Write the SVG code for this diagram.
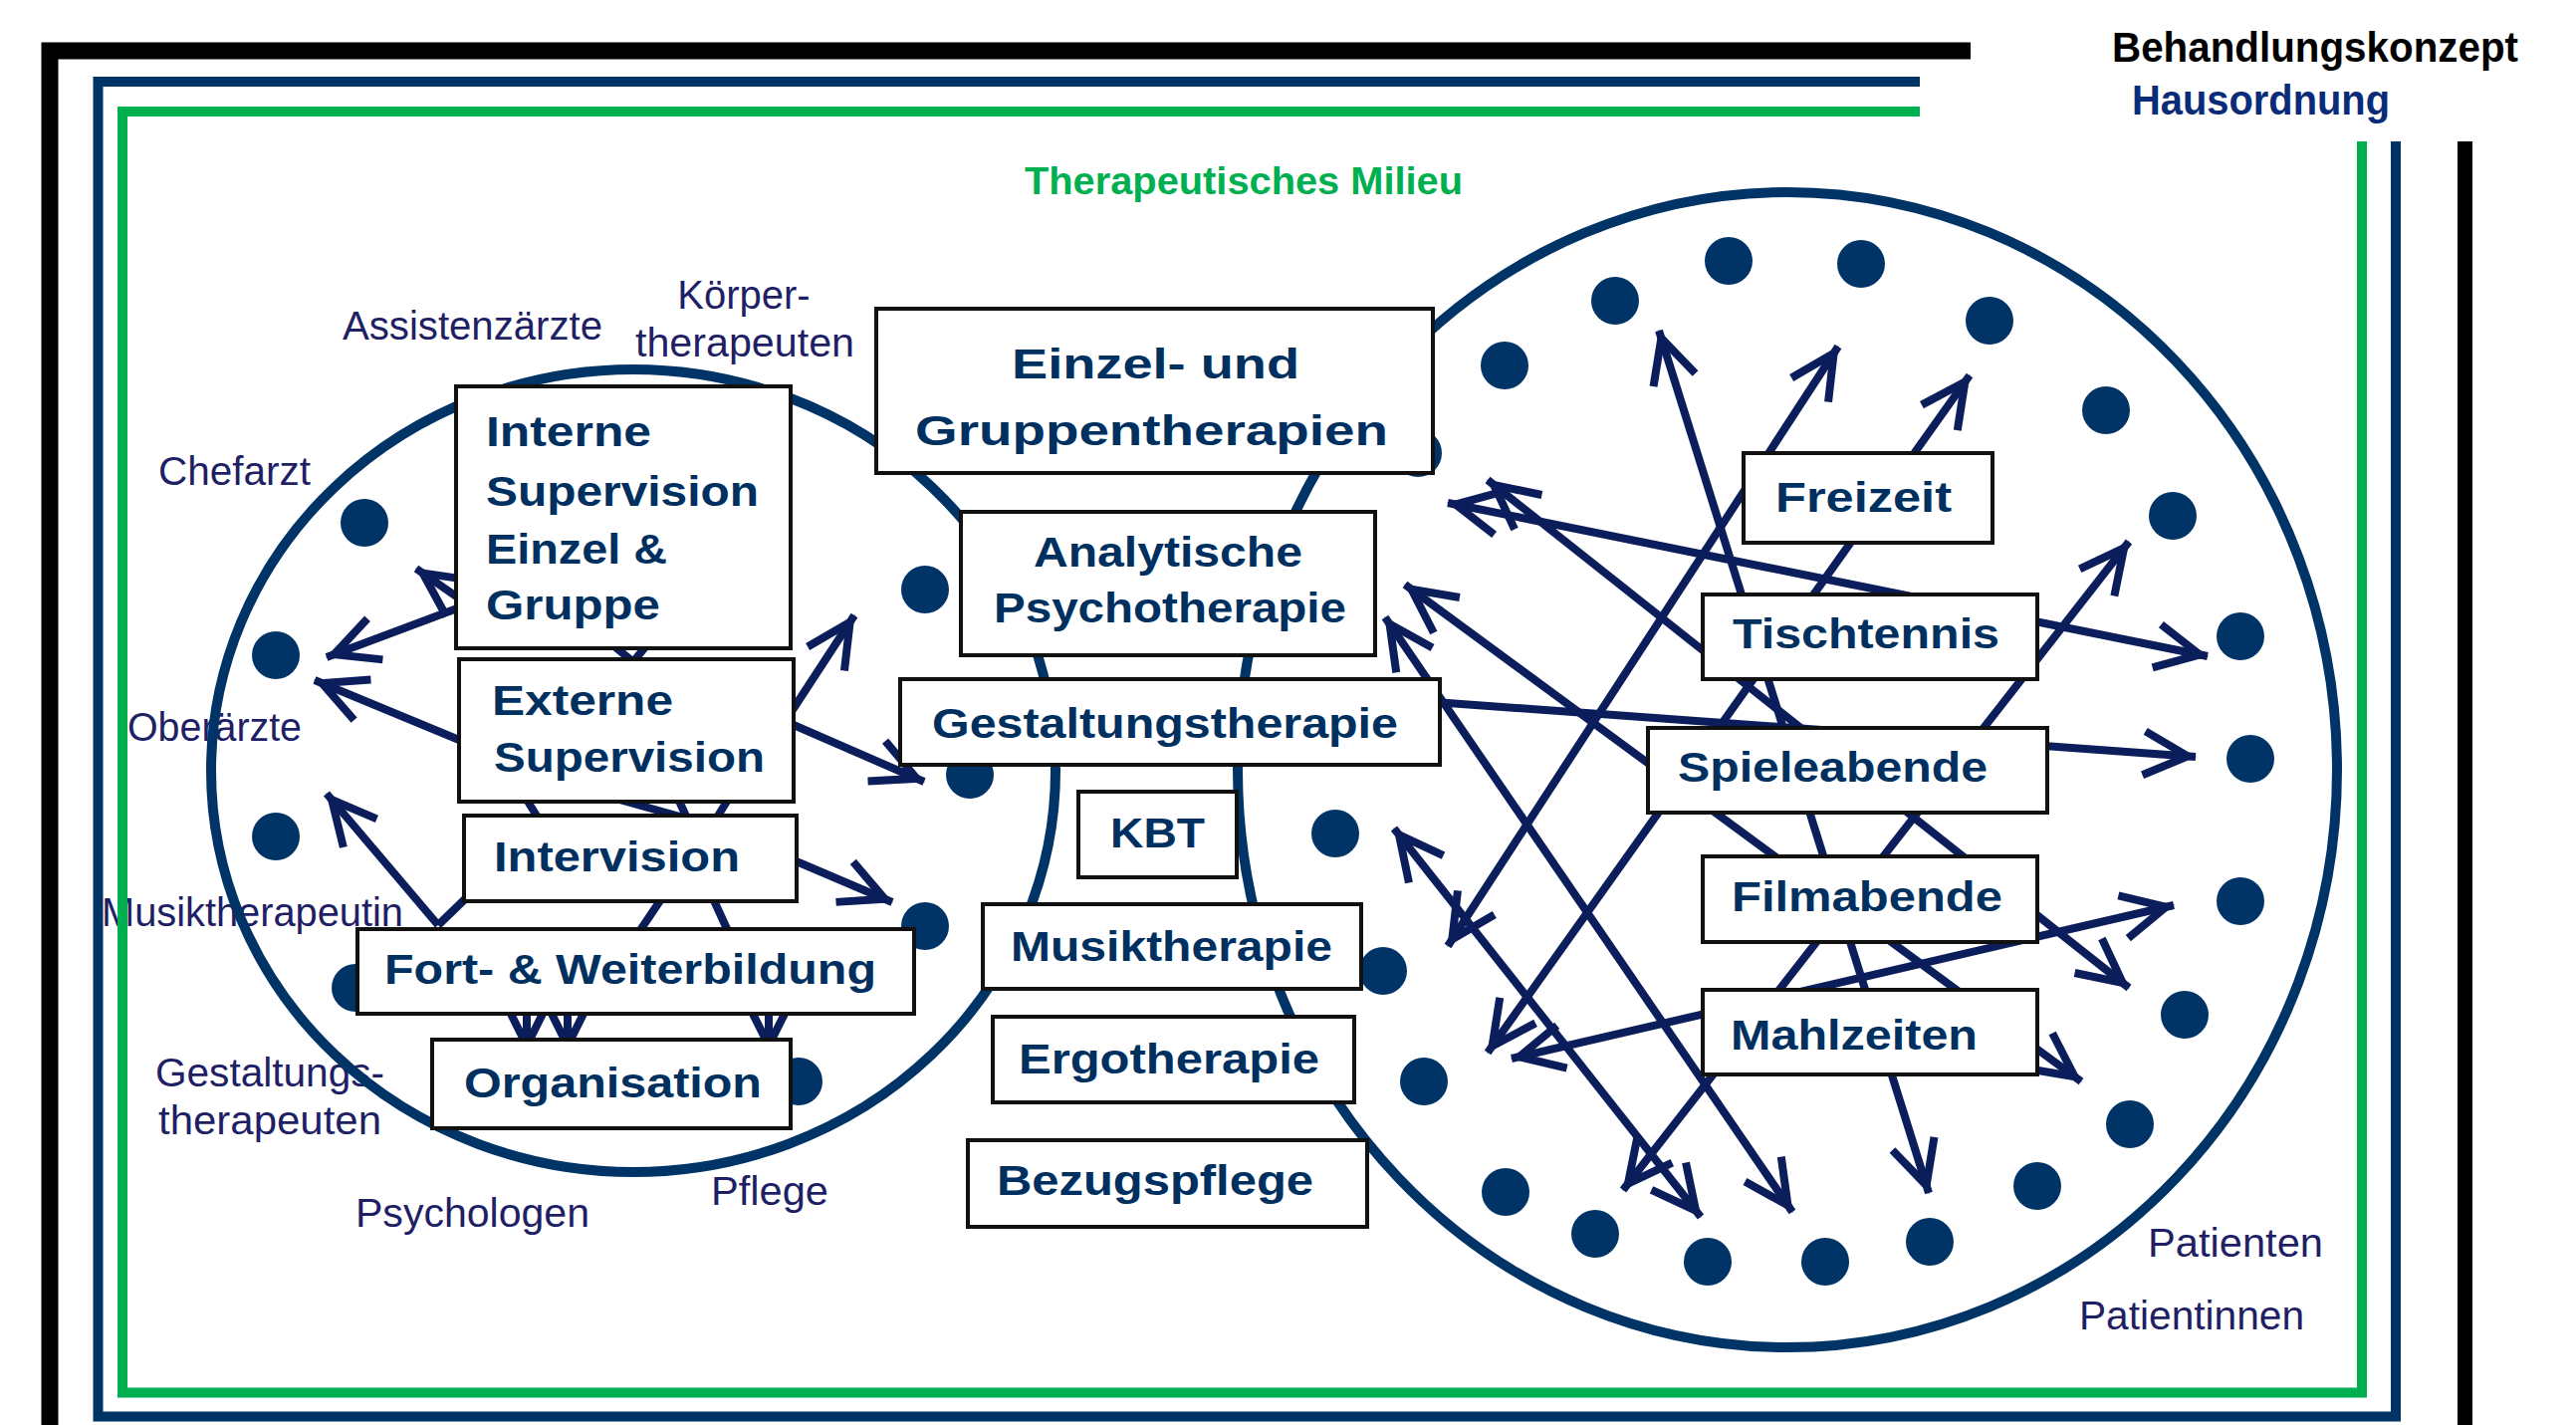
<svg xmlns="http://www.w3.org/2000/svg" width="2587" height="1431" viewBox="0 0 2587 1431">
<defs>
<style>
.bt{font-family:"Liberation Sans",Arial,sans-serif;font-weight:bold;font-size:42px;fill:#003060}
.lbl{font-family:"Liberation Sans",Arial,sans-serif;font-size:40px;fill:#1F1F66}
.box{fill:#fff;stroke:#111;stroke-width:4}
.ell{fill:none;stroke:#003366;stroke-width:10}
.dot{fill:#003366}
.conn line{stroke:#0B1E5B;stroke-width:8;fill:none}
.fr{fill:none;stroke-linejoin:miter;stroke-linecap:butt}
</style>
<marker id="ah" viewBox="-50 -30 70 60" refX="8" refY="0" markerWidth="70" markerHeight="60" markerUnits="userSpaceOnUse" orient="auto-start-reverse">
<path d="M-44,-22 L0,0 L-44,22" fill="none" stroke="#0B1E5B" stroke-width="8"/>
</marker>
</defs>
<rect width="2587" height="1431" fill="#fff"/>

<g id="labels">
<text class="lbl" x="344" y="341" textLength="261" lengthAdjust="spacingAndGlyphs">Assistenzärzte</text>
<text class="lbl" x="747" y="310" text-anchor="middle">Körper-</text>
<text class="lbl" x="638" y="358" textLength="220" lengthAdjust="spacingAndGlyphs">therapeuten</text>
<text class="lbl" x="159" y="487" textLength="153" lengthAdjust="spacingAndGlyphs">Chefarzt</text>
<text class="lbl" x="128" y="744" textLength="175" lengthAdjust="spacingAndGlyphs">Oberärzte</text>
<text class="lbl" x="102" y="930" textLength="303" lengthAdjust="spacingAndGlyphs">Musiktherapeutin</text>
<text class="lbl" x="156" y="1091" textLength="230" lengthAdjust="spacingAndGlyphs">Gestaltungs-</text>
<text class="lbl" x="159" y="1139" textLength="224" lengthAdjust="spacingAndGlyphs">therapeuten</text>
<text class="lbl" x="357" y="1232" textLength="235" lengthAdjust="spacingAndGlyphs">Psychologen</text>
<text class="lbl" x="714" y="1210" textLength="118" lengthAdjust="spacingAndGlyphs">Pflege</text>
<text class="lbl" x="2157" y="1262" textLength="176" lengthAdjust="spacingAndGlyphs">Patienten</text>
<text class="lbl" x="2088" y="1335" textLength="226" lengthAdjust="spacingAndGlyphs">Patientinnen</text>
</g>

<g id="titles">
<text x="2121" y="62" font-family="Liberation Sans, Arial, sans-serif" font-weight="bold" font-size="42" fill="#000" textLength="408" lengthAdjust="spacingAndGlyphs">Behandlungskonzept</text>
<text x="2141" y="115" font-family="Liberation Sans, Arial, sans-serif" font-weight="bold" font-size="42" fill="#0A2C78" textLength="259" lengthAdjust="spacingAndGlyphs">Hausordnung</text>
<text x="1029" y="195" font-family="Liberation Sans, Arial, sans-serif" font-weight="bold" font-size="39" fill="#00B050" textLength="440" lengthAdjust="spacingAndGlyphs">Therapeutisches Milieu</text>
</g>

<g id="circles">
<ellipse class="ell" cx="636" cy="774" rx="424" ry="403"/>
<ellipse class="ell" cx="1795" cy="773" rx="552" ry="580"/>
</g>

<g id="dots">
<circle class="dot" cx="366" cy="525" r="24"/>
<circle class="dot" cx="277" cy="658" r="24"/>
<circle class="dot" cx="277" cy="840" r="24"/>
<circle class="dot" cx="357" cy="992" r="24"/>
<circle class="dot" cx="929" cy="592" r="24"/>
<circle class="dot" cx="974" cy="778" r="24"/>
<circle class="dot" cx="929" cy="930" r="24"/>
<circle class="dot" cx="802" cy="1086" r="24"/>
<circle class="dot" cx="1424" cy="455" r="24"/>
<circle class="dot" cx="1511" cy="367" r="24"/>
<circle class="dot" cx="1622" cy="302" r="24"/>
<circle class="dot" cx="1736" cy="262" r="24"/>
<circle class="dot" cx="1869" cy="265" r="24"/>
<circle class="dot" cx="1998" cy="322" r="24"/>
<circle class="dot" cx="2115" cy="412" r="24"/>
<circle class="dot" cx="2182" cy="518" r="24"/>
<circle class="dot" cx="2250" cy="639" r="24"/>
<circle class="dot" cx="2260" cy="762" r="24"/>
<circle class="dot" cx="2250" cy="905" r="24"/>
<circle class="dot" cx="2194" cy="1019" r="24"/>
<circle class="dot" cx="2139" cy="1129" r="24"/>
<circle class="dot" cx="2046" cy="1191" r="24"/>
<circle class="dot" cx="1938" cy="1247" r="24"/>
<circle class="dot" cx="1833" cy="1267" r="24"/>
<circle class="dot" cx="1715" cy="1267" r="24"/>
<circle class="dot" cx="1602" cy="1239" r="24"/>
<circle class="dot" cx="1512" cy="1197" r="24"/>
<circle class="dot" cx="1430" cy="1086" r="24"/>
<circle class="dot" cx="1389" cy="975" r="24"/>
<circle class="dot" cx="1341" cy="837" r="24"/>
</g>

<g id="connectors" class="conn">
<line x1="459" y1="611" x2="328" y2="660" marker-end="url(#ah)"/>
<line x1="500" y1="628" x2="418" y2="571" marker-end="url(#ah)"/>
<line x1="461" y1="743" x2="316" y2="683" marker-end="url(#ah)"/>
<line x1="440" y1="929" x2="328" y2="797" marker-end="url(#ah)"/>
<line x1="790" y1="722" x2="858" y2="618" marker-end="url(#ah)"/>
<line x1="790" y1="725" x2="928" y2="785" marker-end="url(#ah)"/>
<line x1="795" y1="863" x2="896" y2="906" marker-end="url(#ah)"/>
<line x1="529" y1="990" x2="529" y2="1058" marker-end="url(#ah)"/>
<line x1="570" y1="990" x2="570" y2="1058" marker-end="url(#ah)"/>
<line x1="772" y1="990" x2="772" y2="1058" marker-end="url(#ah)"/>
<line x1="612" y1="645" x2="640" y2="668"/>
<line x1="652" y1="645" x2="633" y2="668"/>
<line x1="527" y1="800" x2="542" y2="824"/>
<line x1="615" y1="801" x2="690" y2="822"/>
<line x1="680" y1="800" x2="691" y2="824"/>
<line x1="733" y1="800" x2="718" y2="824"/>
<line x1="666" y1="900" x2="641" y2="937"/>
<line x1="715" y1="900" x2="732" y2="937"/>
<line x1="440" y1="929" x2="470" y2="900"/>
<line x1="1666" y1="332" x2="1937" y2="1198" marker-start="url(#ah)" marker-end="url(#ah)"/>
<line x1="1846" y1="348" x2="1454" y2="950" marker-start="url(#ah)" marker-end="url(#ah)"/>
<line x1="1454" y1="505" x2="2217" y2="659" marker-start="url(#ah)" marker-end="url(#ah)"/>
<line x1="1494" y1="482" x2="2138" y2="992" marker-start="url(#ah)" marker-end="url(#ah)"/>
<line x1="1411" y1="587" x2="2090" y2="1086" marker-start="url(#ah)" marker-end="url(#ah)"/>
<line x1="1391" y1="620" x2="1800" y2="1217" marker-start="url(#ah)" marker-end="url(#ah)"/>
<line x1="1400" y1="832" x2="1708" y2="1222" marker-start="url(#ah)" marker-end="url(#ah)"/>
<line x1="1978" y1="377" x2="1494" y2="1057" marker-start="url(#ah)" marker-end="url(#ah)"/>
<line x1="2138" y1="544" x2="1630" y2="1195" marker-start="url(#ah)" marker-end="url(#ah)"/>
<line x1="1518" y1="1063" x2="2183" y2="909" marker-start="url(#ah)" marker-end="url(#ah)"/>
<line x1="1440" y1="705" x2="2205" y2="760" marker-end="url(#ah)"/>
</g>

<g id="node-interne"><rect class="box" x="458" y="388" width="336" height="263"/>
<text class="bt" x="488" y="448" textLength="166" lengthAdjust="spacingAndGlyphs">Interne</text>
<text class="bt" x="488" y="508" textLength="274" lengthAdjust="spacingAndGlyphs">Supervision</text>
<text class="bt" x="488" y="566" textLength="182" lengthAdjust="spacingAndGlyphs">Einzel &amp;</text>
<text class="bt" x="488" y="622" textLength="175" lengthAdjust="spacingAndGlyphs">Gruppe</text></g>
<g id="node-externe"><rect class="box" x="461" y="662" width="336" height="143"/>
<text class="bt" x="494" y="718" textLength="182" lengthAdjust="spacingAndGlyphs">Externe</text>
<text class="bt" x="496" y="775" textLength="272" lengthAdjust="spacingAndGlyphs">Supervision</text></g>
<g id="node-intervision"><rect class="box" x="466" y="819" width="334" height="86"/>
<text class="bt" x="496" y="875" textLength="247" lengthAdjust="spacingAndGlyphs">Intervision</text></g>
<g id="node-fort"><rect class="box" x="359" y="933" width="559" height="85"/>
<text class="bt" x="386" y="988" textLength="494" lengthAdjust="spacingAndGlyphs">Fort- &amp; Weiterbildung</text></g>
<g id="node-organisation"><rect class="box" x="434" y="1044" width="360" height="89"/>
<text class="bt" x="466" y="1102" textLength="299" lengthAdjust="spacingAndGlyphs">Organisation</text></g>

<g id="node-einzel"><rect class="box" x="880" y="310" width="559" height="165"/>
<text class="bt" x="1016" y="380" font-size="53" textLength="289" lengthAdjust="spacingAndGlyphs">Einzel- und</text>
<text class="bt" x="919" y="447" font-size="53" textLength="475" lengthAdjust="spacingAndGlyphs">Gruppentherapien</text></g>
<g id="node-analytische"><rect class="box" x="965" y="514" width="416" height="144"/>
<text class="bt" x="1038" y="569" textLength="270" lengthAdjust="spacingAndGlyphs">Analytische</text>
<text class="bt" x="998" y="625" textLength="354" lengthAdjust="spacingAndGlyphs">Psychotherapie</text></g>
<g id="node-gestaltung"><rect class="box" x="904" y="682" width="542" height="86"/>
<text class="bt" x="936" y="741" textLength="468" lengthAdjust="spacingAndGlyphs">Gestaltungstherapie</text></g>
<g id="node-kbt"><rect class="box" x="1083" y="795" width="159" height="86"/>
<text class="bt" x="1115" y="851" textLength="95" lengthAdjust="spacingAndGlyphs">KBT</text></g>
<g id="node-musik"><rect class="box" x="987" y="908" width="380" height="85"/>
<text class="bt" x="1015" y="965" textLength="323" lengthAdjust="spacingAndGlyphs">Musiktherapie</text></g>
<g id="node-ergo"><rect class="box" x="997" y="1021" width="363" height="86"/>
<text class="bt" x="1023" y="1078" textLength="302" lengthAdjust="spacingAndGlyphs">Ergotherapie</text></g>
<g id="node-bezug"><rect class="box" x="972" y="1145" width="401" height="87"/>
<text class="bt" x="1001" y="1200" textLength="318" lengthAdjust="spacingAndGlyphs">Bezugspflege</text></g>

<g id="node-freizeit"><rect class="box" x="1751" y="455" width="250" height="90"/>
<text class="bt" x="1783" y="514" textLength="177" lengthAdjust="spacingAndGlyphs">Freizeit</text></g>
<g id="node-tischtennis"><rect class="box" x="1710" y="597" width="336" height="85"/>
<text class="bt" x="1740" y="651" textLength="268" lengthAdjust="spacingAndGlyphs">Tischtennis</text></g>
<g id="node-spieleabende"><rect class="box" x="1655" y="731" width="401" height="85"/>
<text class="bt" x="1685" y="785" textLength="311" lengthAdjust="spacingAndGlyphs">Spieleabende</text></g>
<g id="node-filmabende"><rect class="box" x="1710" y="860" width="336" height="86"/>
<text class="bt" x="1739" y="915" textLength="272" lengthAdjust="spacingAndGlyphs">Filmabende</text></g>
<g id="node-mahlzeiten"><rect class="box" x="1710" y="994" width="336" height="85"/>
<text class="bt" x="1738" y="1054" textLength="248" lengthAdjust="spacingAndGlyphs">Mahlzeiten</text></g>

<g id="frames">
<path class="fr" d="M50 1431 V51 H1979" stroke="#000" stroke-width="17"/>
<line x1="2475.5" y1="142" x2="2475.5" y2="1431" stroke="#000" stroke-width="15"/>
<path class="fr" d="M1928 82 H98.5 V1422.5 H2406 V142" stroke="#003366" stroke-width="10"/>
<path class="fr" d="M1928 112 H123 V1398.5 H2372 V142" stroke="#00B050" stroke-width="10"/>
</g>
</svg>
